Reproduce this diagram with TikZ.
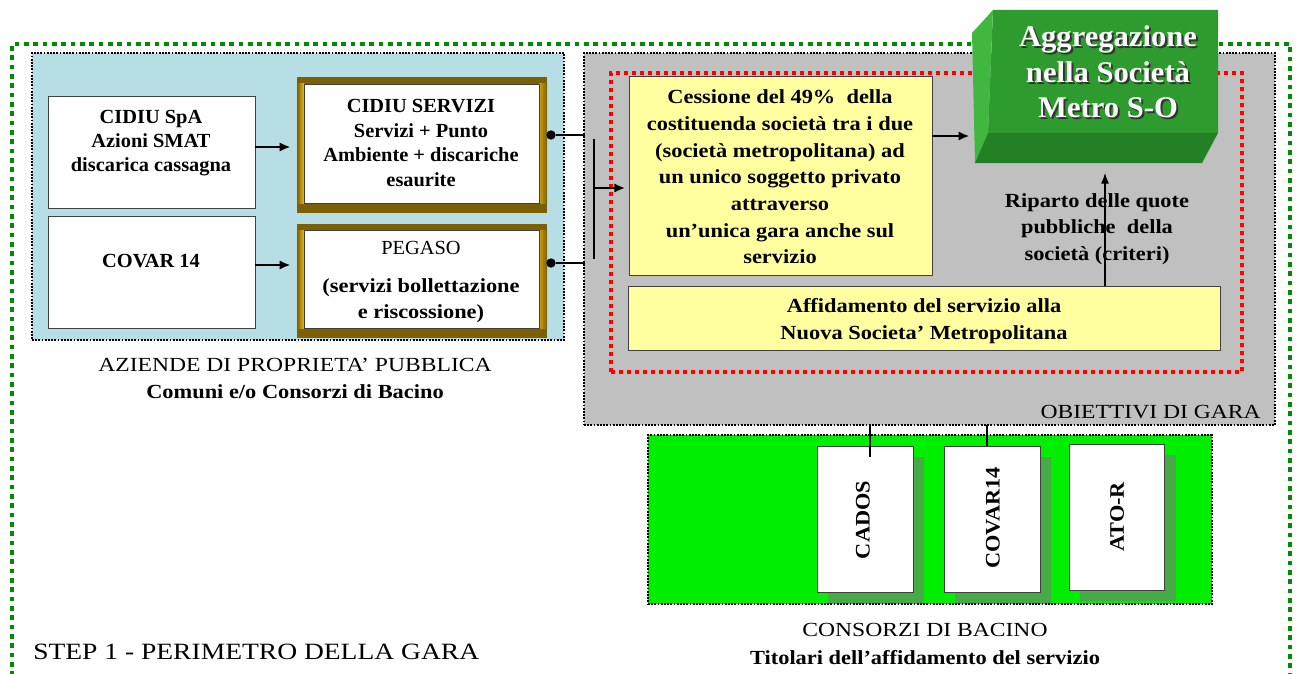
\documentclass[tikz,border=0pt]{standalone}
\usepackage{fontspec}
\setmainfont{Liberation Serif}[FakeStretch=1.02, Ligatures=TeX]
\newfontfamily\fmid{Liberation Serif}[FakeStretch=1.12, Ligatures=TeX]
\newfontfamily\fwide{Liberation Serif}[FakeStretch=1.18, Ligatures=TeX]
\newfontfamily\fvert{Liberation Serif}[FakeStretch=1.08, Ligatures=TeX]
\usetikzlibrary{fit,arrows.meta,calc}
\definecolor{outergreen}{RGB}{0,140,0}
\definecolor{lightblue}{RGB}{183,222,229}
\definecolor{graybg}{RGB}{192,192,192}
\definecolor{paleyellow}{RGB}{255,255,160}
\definecolor{brightgreen}{RGB}{0,238,0}
\definecolor{shadowgreen}{RGB}{70,170,70}
\definecolor{goldbrown}{RGB}{125,95,5}
\definecolor{goldlight}{RGB}{235,190,20}
\definecolor{frontgreen}{RGB}{46,155,46}
\definecolor{leftgreen}{RGB}{64,184,64}
\definecolor{bottomgreen}{RGB}{36,128,36}
\tikzset{
  greendash/.style={draw=outergreen, line width=3pt, dash pattern=on 3.5pt off 3.5pt},
  blackdot/.style={draw=black, line width=1.6pt, dash pattern=on 1.3pt off 1.1pt},
  reddash/.style={draw=red, line width=3pt, dash pattern=on 3pt off 3pt},
  area/.style={inner sep=0pt, outer sep=0pt},
  plainbox/.style={area, draw=black!75, fill=white, line width=0.7pt},
  framebox/.style={area, fill=goldbrown},
  yellowbox/.style={area, draw=black!75, fill=paleyellow, line width=0.7pt},
  shadowbox/.style={area, fill=shadowgreen},
  txt/.style={inner sep=0pt, align=center, font=\fontsize{15pt}{18pt}\selectfont\bfseries},
  midtxt/.style={inner sep=0pt, align=center, font=\fmid\fontsize{15pt}{20pt}\selectfont\bfseries},
  captxt/.style={inner sep=0pt, align=center, font=\fwide\fontsize{15pt}{18pt}\selectfont},
  verttxt/.style={inner sep=0pt, rotate=90, font=\fvert\fontsize{15.5pt}{18pt}\selectfont\bfseries},
  arr/.style={line width=1.5pt, -{Latex[length=8pt,width=7pt]}},
  thinarr/.style={line width=0.8pt, -{Latex[length=8pt,width=6pt]}},
  link/.style={line width=1.5pt},
  thinlink/.style={line width=0.8pt},
}
\begin{document}
\begin{tikzpicture}[x=0.75pt,y=-0.75pt]
\useasboundingbox (0,0) rectangle (1297,674);
\fill[white] (0,0) rectangle (1297,674);

% outer perimeter
\draw[greendash] (12,676) -- (12,44) -- (1290,44) -- (1290,676);

% regions
\node[fit={(32,53)(564,340)}, area, fill=lightblue, blackdot] (aziende) {};
\node[fit={(584,53)(1275,425)}, area, fill=graybg, blackdot] (obiettivi) {};
\node[fit={(611,73)(1242,372)}, area, reddash] (redframe) {};
\node[fit={(648,435)(1212,604)}, area, fill=brightgreen, blackdot] (consorzi) {};

% left boxes
\node[fit={(48,96)(255,208)}, plainbox] (cidiuspa) {};
\node[fit={(48,216)(255,328)}, plainbox] (covar) {};
\node[txt] (cidiuspatxt) at (151,143) {CIDIU SpA\\Azioni SMAT\\discarica cassagna};
\node[txt] (covartxt) at (151,261) {COVAR 14};

% gold framed boxes
\node[fit={(297,77)(547,213)}, framebox] (csframe) {};
\shade[left color=goldbrown, right color=goldlight] (297,84) rectangle (304,203);
\shade[left color=goldlight!70!goldbrown, right color=goldbrown] (539,84) rectangle (547,203);
\node[fit={(304,84)(539,203)}, plainbox] (cidiuserv) {};
\node[txt, font=\fontsize{15pt}{18.5pt}\selectfont\bfseries] (cidiuservtxt) at (421,143) {CIDIU SERVIZI\\Servizi + Punto\\Ambiente + discariche\\esaurite};

\node[fit={(297,224)(547,338)}, framebox] (pgframe) {};
\shade[left color=goldbrown, right color=goldlight] (297,230) rectangle (304,328);
\shade[left color=goldlight!70!goldbrown, right color=goldbrown] (539,230) rectangle (547,328);
\node[fit={(304,230)(539,328)}, plainbox] (pegaso) {};
\node[inner sep=0pt, font=\fontsize{15pt}{18pt}\selectfont] (pegasotitle) at (421,248) {PEGASO};
\node[midtxt, font=\fmid\fontsize{15pt}{19.5pt}\selectfont\bfseries] (pegasotxt) at (421,301) {(servizi bollettazione\\e riscossione)};

% arrows left
\draw[arr, shorten >=5pt] ($(cidiuspa.east)+(0,-5)$) -- ($(csframe.west)+(0,2)$);
\draw[arr, shorten >=5pt] ($(covar.east)+(0,-7)$) -- ($(pgframe.west)+(0,-16)$);

% dots and bar
\node[circle, fill=black, inner sep=0pt, minimum size=7pt] (dot1) at (551,135) {};
\node[circle, fill=black, inner sep=0pt, minimum size=7pt] (dot2) at (551,263) {};
\coordinate (j1) at (585,135);
\coordinate (j2) at (585,263);
\draw[link] (dot1) -- (j1);
\draw[link] (dot2) -- (j2);
\coordinate (bartop) at (594,139);
\coordinate (barbot) at (594,259);
\coordinate (barmid) at (594,188);
\draw[link] (bartop) -- (barbot);

% yellow boxes
\node[fit={(629,76)(932,275)}, yellowbox] (cessione) {};
\node[midtxt] (cessionetxt) at (780,177) {Cessione del 49\%\ \ della\\costituenda società tra i due\\(società metropolitana) ad\\un unico soggetto privato\\attraverso\\un’unica gara anche sul\\servizio};
\node[fit={(628,286)(1220,350)}, yellowbox] (affidamento) {};
\node[midtxt] (affidamentotxt) at (924,321) {Affidamento del servizio alla\\Nuova Societa’ Metropolitana};

\draw[arr, shorten >=3pt] (barmid) -- (cessione.west |- barmid);

% Metro S-O block
\node[fit={(972,10)(1220,163)}, area] (metro) {};
\fill[frontgreen] (993,10) -- (1218,10) -- (1218,133) -- (988,133) -- cycle;
\fill[leftgreen] (972,33) -- (993,10) -- (988,133) -- (975,163) -- cycle;
\fill[bottomgreen] (988,133) -- (1218,133) -- (1202,163) -- (975,163) -- cycle;
\node[txt, text=black!80, font=\fontsize{22.5pt}{26.5pt}\selectfont\bfseries] (metroshadow) at (1110,74) {Aggregazione\\nella Società\\Metro S-O};
\node[txt, text=white, font=\fontsize{22.5pt}{26.5pt}\selectfont\bfseries] (metrotxt) at (1108,72) {Aggregazione\\nella Società\\Metro S-O};

\coordinate (arry) at (0,136);
\draw[arr, shorten >=2pt] (cessione.east |- arry) -- (metro.west |- arry);
\coordinate (upx) at (1105,0);
\draw[thinarr, shorten >=7.5pt] (affidamento.north -| upx) -- (metro.south -| upx);
\node[midtxt] (ripartotxt) at (1097,229) {Riparto delle quote\\pubbliche\ \ della\\società (criteri)};

\node[captxt, anchor=east] (obiettivitxt) at (1261,412) {OBIETTIVI DI GARA};

% consorzi boxes
\node[fit={(828,457)(924,603)}, shadowbox] (cadosshadow) {};
\node[fit={(955,457)(1051,603)}, shadowbox] (covarshadow) {};
\node[fit={(1080,455)(1176,601)}, shadowbox] (atorshadow) {};
\node[fit={(817,446)(913,592)}, plainbox] (cados) {};
\node[fit={(944,446)(1040,592)}, plainbox] (covarfourteen) {};
\node[fit={(1069,444)(1164,590)}, plainbox] (ator) {};
\node[verttxt] (cadostxt) at (863,520) {CADOS};
\node[verttxt] (covarfourteentxt) at (993,518) {COVAR14};
\node[verttxt] (atortxt) at (1117,517) {ATO-R};

\coordinate (cadx) at (870,0);
\coordinate (covx) at (987,0);
\draw[thinlink] (obiettivi.south -| cadx) -- ($(cados.north -| cadx)+(0,11)$);
\draw[thinlink] (obiettivi.south -| covx) -- (covarfourteen.north -| covx);

% captions
\node[captxt] (aziendetxt) at (295,365) {AZIENDE DI PROPRIETA’ PUBBLICA};
\node[midtxt] (comunitxt) at (295,392) {Comuni e/o Consorzi di Bacino};
\node[captxt] (consorzitxt) at (925,630) {CONSORZI DI BACINO};
\node[midtxt] (titolaritxt) at (925,658) {Titolari dell’affidamento del servizio};
\node[captxt, anchor=west, font=\fwide\fontsize{17.5pt}{20pt}\selectfont] (steptxt) at (33,652) {STEP 1 - PERIMETRO DELLA GARA};
\end{tikzpicture}
\end{document}
